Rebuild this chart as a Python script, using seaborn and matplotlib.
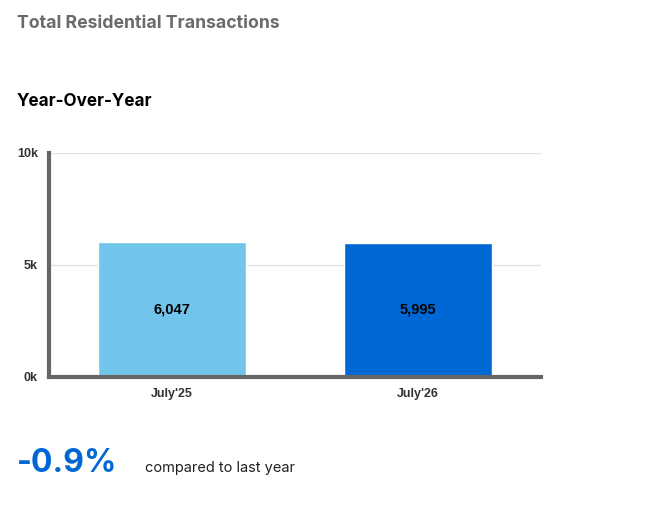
import matplotlib
matplotlib.use('Agg')
import matplotlib.pyplot as plt
import pandas as pd
import seaborn as sns

# data
periods = ["July'25", "July'26"]
transactions = [6047, 5995]
bar_colors = ['#72C5EA', '#0068D4']
yticks = [0, 5000, 10000]
ytick_labels = ['0k', '5k', '10k']
change_text = '-0.9%'

data = pd.DataFrame({'period': periods, 'transactions': transactions})

sns.set_style('white')
plt.rcParams['font.family'] = ['Liberation Sans', 'DejaVu Sans']

fig = plt.figure(figsize=(6.6, 5.16), dpi=100)
ax = fig.add_axes([0.0742, 0.2694, 0.7455, 0.4341])

sns.barplot(ax=ax, data=data, x='period', y='transactions', hue='period',
            palette=bar_colors, width=0.6, legend=False, saturation=1)

ax.set_xlim(-0.5, 1.5)
ax.set_ylim(0, 10000)
ax.set_yticks(yticks)
ax.set_yticklabels(ytick_labels)
ax.yaxis.grid(True, color='#e3e3e3', linewidth=1)
ax.set_axisbelow(True)
ax.set_xlabel('')
ax.set_ylabel('')

for side in ['top', 'right']:
    ax.spines[side].set_visible(False)
for side in ['left', 'bottom']:
    ax.spines[side].set_color('#666666')
    ax.spines[side].set_linewidth(3)

ax.tick_params(axis='both', length=0, pad=8, labelcolor='#333333')
for lab in ax.get_xticklabels() + ax.get_yticklabels():
    lab.set_fontweight('bold')
    lab.set_fontsize(9)

for i, v in enumerate(transactions):
    ax.text(i, v / 2, f'{v:,}', ha='center', va='center',
            fontsize=10.5, fontweight='bold', color='black')

head_font = ['Inter', 'DejaVu Sans']
fig.text(17 / 660, 1 - 23 / 516, 'Total Residential Transactions', family=head_font,
         fontsize=12.7, fontweight='bold', color='#6b6b6b', va='center', ha='left')
fig.text(17 / 660, 1 - 102 / 516, 'Year-Over-Year', family=head_font,
         fontsize=12.3, fontweight='bold', color='black', va='center', ha='left')
fig.text(17 / 660, 1 - 464 / 516, change_text, family=head_font,
         fontsize=23, fontweight='bold', color='#0068D4', va='center', ha='left')
fig.text(145 / 660, 1 - 468 / 516, 'compared to last year', family=head_font,
         fontsize=10.5, color='#222222', va='center', ha='left')

fig.savefig('out.png', dpi=100)
